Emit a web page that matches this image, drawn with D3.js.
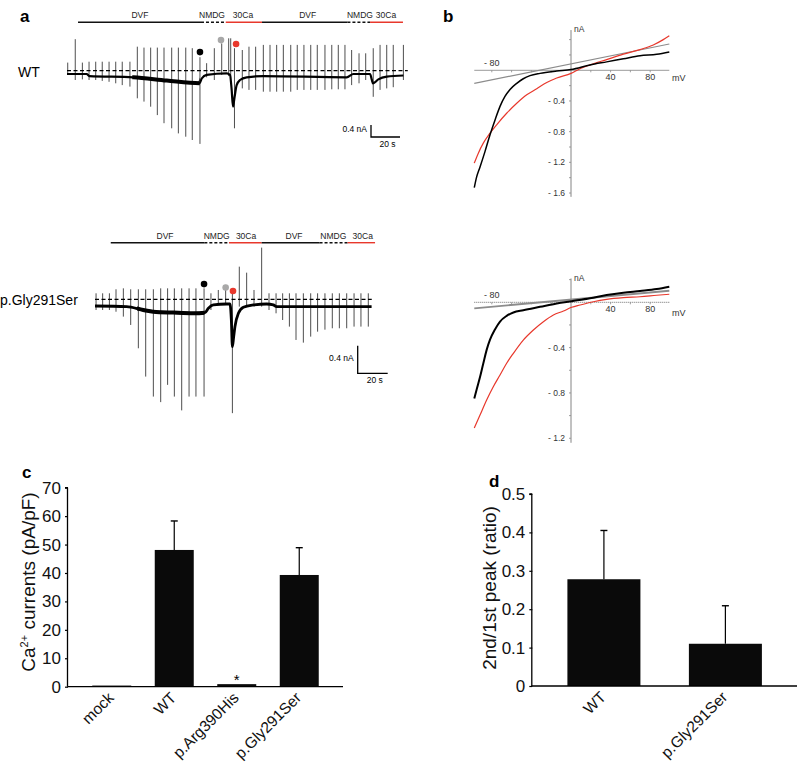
<!DOCTYPE html>
<html><head><meta charset="utf-8">
<script src="https://cdn.jsdelivr.net/npm/d3@7"></script>
<style>html,body{margin:0;padding:0;background:#fff;} svg{display:block;font-family:'Liberation Sans',Arial,Helvetica,sans-serif;}</style>
</head><body><svg id="chart" width="797" height="771"></svg>
<script>
// ---------------- DATA ----------------
// Panel a, WT whole-cell recording (time s, current nA)
const wtRampT = [0.5,5.7,10.6,15.2,19.8,24.3,29,33.6,38.1,43.4,48.5,53.1,57.7,62.3,66.9,72.2,76.8,81.9,86.4,91.7,96.3,101.6,106.7,111.5,112.9,115.5,120.9,125.5,130.1,135.4,140,144.6,149.2,154.3,158.8,163.4,168.1,172.6,177.9,182.6,187.1,191.7,196.3,201.4,206,211.2,215.9,220.5,225,232];
const wtRampMax = [0.27,1.05,0.27,0.3,0.3,0.3,0.3,0.3,0.3,0.3,0.8,0.77,0.77,0.77,0.77,0.77,0.77,0.77,0.75,0.45,0.25,0.75,0.91,1.08,1.08,0.75,0.69,0.8,0.8,0.86,0.86,0.86,0.86,0.86,0.86,0.86,0.86,0.86,0.86,0.86,0.86,0.86,0.69,0.58,0.58,0.75,0.86,0.86,0.86,0.86];
const wtRampMin = [-0.14,-0.31,-0.29,-0.31,-0.31,-0.34,-0.37,-0.42,-0.48,-0.53,-0.92,-1.03,-1.2,-1.48,-1.75,-1.92,-2.09,-2.2,-2.31,-2.44,-0.22,-0.31,-0.14,-0.18,-0.3,-1.92,-0.59,-0.64,-0.64,-0.7,-0.7,-0.7,-0.7,-0.7,-0.64,-0.64,-0.64,-0.64,-0.64,-0.62,-0.62,-0.62,-0.48,-0.42,-0.31,-0.87,-0.64,-0.59,-0.55,-0.31];
const wtBaseT = [0,13.6,15.4,45.7,68.8,91.5,92.9,96.3,110.1,112.4,113.5,114.5,115.5,117,119.3,123.9,135.4,192.9,197.5,209,210.2,211,214.7,220.5,232];
const wtBaseI = [-0.11,-0.11,-0.18,-0.22,-0.33,-0.42,-0.26,-0.14,-0.09,-0.14,-0.6,-1.2,-0.9,-0.48,-0.31,-0.22,-0.18,-0.22,-0.11,-0.11,-0.3,-0.42,-0.29,-0.2,-0.16];
const wtNoisyWindow = [45,91.5];
const wtSolBounds = [7.6,92.4,109.5,134.5,193.4,209,231.7];
const wtSolLabelT = [50.3,100,121.4,166,202,220];
const wtDotT = [91.7,106.2,116.6];
const wtDotI = [0.62,1.02,0.89];

// Panel a, p.Gly291Ser recording
const glyRampT = [0.7,5.1,9.6,14,18.9,23.8,28.9,33.8,38.9,43.8,48.4,52.9,57.8,62.7,67.3,72.7,77.3,82.2,87.1,91.6,96.2,101.1,106,111.1,116,120.7,125.1,129.6,134,138.9,143.8,148.4,153.3,158.2,162.9,167.8,172.7,177.3,182.2];
const glyRampMax = [0.087,0.087,0.087,0.145,0.159,0.145,0.145,0.145,0.145,0.159,0.159,0.159,0.159,0.159,0.159,0.159,0.087,0.135,0.208,0.087,0.473,0.386,0.135,0.749,0.087,0.087,0.087,0.087,0.087,0.087,0.087,0.087,0.087,0.087,0.087,0.087,0.087,0.087,0.087];
const glyRampMin = [-0.155,-0.155,-0.155,-0.18,-0.251,-0.372,-0.71,-1.12,-1.41,-1.49,-1.24,-1.41,-1.61,-1.41,-1.41,-1.41,-0.155,-0.058,-0.082,-1.65,-0.106,-0.106,-0.106,-0.106,-0.155,-0.203,-0.3,-0.396,-0.589,-0.628,-0.541,-0.469,-0.44,-0.42,-0.42,-0.42,-0.396,-0.396,-0.396];
const glyBaseT = [0,21.1,32.2,38.9,52.2,65.6,73.3,75.6,78.9,87.8,90,90.9,91.6,92.4,93.3,95.6,98.9,105.6,114.4,118.9,121.1,184.4];
const glyBaseI = [-0.097,-0.106,-0.155,-0.179,-0.193,-0.203,-0.193,-0.13,-0.082,-0.068,-0.068,-0.3,-0.686,-0.55,-0.396,-0.203,-0.116,-0.082,-0.068,-0.082,-0.106,-0.106];
const glyNoisyWindow = [28,73];
const glySolBounds = [10.5,72.9,89.3,111.1,149.7,168.4,186.7];
const glySolLabelT = [46.7,81.1,100.7,132.7,158.9,178.5];
const glyDotT = [72.7,87.1,92];
const glyDotI = [0.22,0.17,0.12];

const solLabels = ["DVF","NMDG","30Ca","DVF","NMDG","30Ca"];
const solKinds = ["dvf","nmdg","ca","dvf","nmdg","ca"];

// Panel b, I-V relations (mV, nA)
const ivTopBlackV = [-97.7,-95.3,-91.9,-86.9,-81.8,-76.8,-71.7,-66.7,-61.6,-54.8,-48.2,-41.4,-31.3,-14.4,0,19.2,36,52.9,69.7,86.6,99.3];
const ivTopBlackI = [-1.53,-1.39,-1.26,-1.06,-0.84,-0.65,-0.47,-0.34,-0.25,-0.17,-0.11,-0.07,-0.04,-0.01,0.01,0.07,0.11,0.15,0.19,0.21,0.24];
const ivTopRedV = [-97.7,-93.6,-88.6,-81.8,-75.1,-65,-54.8,-44.7,-34.6,-24.5,-14.4,0,9.1,19.2,36,52.9,69.7,83.1,93.2,99.3];
const ivTopRedI = [-1.21,-1.08,-0.95,-0.82,-0.71,-0.56,-0.43,-0.32,-0.24,-0.16,-0.10,-0.04,0.02,0.07,0.14,0.21,0.27,0.33,0.40,0.45];
const ivTopGrayV = [-97.7,99.3];
const ivTopGrayI = [-0.17,0.343];
const ivBotBlackV = [-97.7,-95.3,-91.9,-88.6,-85.2,-81.8,-76.8,-71.7,-65,-58.2,-48.2,-31.3,-14.4,0.7,19.2,36,52.9,69.7,86.6,99.3];
const ivBotBlackI = [-0.85,-0.77,-0.66,-0.54,-0.42,-0.33,-0.24,-0.17,-0.12,-0.09,-0.07,-0.04,-0.01,0.01,0.035,0.064,0.085,0.10,0.117,0.138];
const ivBotRedV = [-97.7,-91.9,-85.2,-78.5,-71.7,-65,-58.2,-48.2,-38,-27.9,-17.8,-7.6,0.7,9.1,22.6,36,52.9,69.7,86.6,99.3];
const ivBotRedI = [-1.11,-0.995,-0.862,-0.745,-0.642,-0.538,-0.45,-0.333,-0.244,-0.171,-0.112,-0.077,-0.044,-0.024,0.005,0.026,0.041,0.049,0.062,0.071];
const ivBotGrayV = [-97.7,99.3];
const ivBotGrayI = [-0.053,0.102];
const ivXTicks = [-80,-60,-40,-20,20,40,60,80];
const ivXLabels = [-80,40,80];

// Panel c
const cCats = ["mock","WT","p.Arg390His","p.Gly291Ser"];
const cVals = [0.4,48.1,0.9,39.3];
const cErr = [0,10.2,0,9.6];
const cTicks = [0,10,20,30,40,50,60,70];

// Panel d
const dCats = ["WT","p.Gly291Ser"];
const dVals = [0.278,0.110];
const dErr = [0.127,0.099];
const dTicks = [0,0.1,0.2,0.3,0.4,0.5];

// ---------------- DRAW ----------------
const svg = d3.select("#chart");
const RED = "#e8382c", GRAY = "#a8a8a8";

[["a",20,22],["b",443,22],["c",22,478],["d",489,487]].forEach(([t,x,y])=>{
  svg.append("text").attr("x",x).attr("y",y).attr("font-size",17).attr("font-weight","bold").text(t);
});

function trace(cfg){
  const g = svg.append("g");
  const x = d3.scaleLinear().domain([0,1]).range([cfg.x0, cfg.x0 + cfg.pxPerS]);
  const y = d3.scaleLinear().domain([0,1]).range([cfg.y0, cfg.y0 - cfg.pxPerNA]);
  for (let i=0;i<solKinds.length;i++){
    const k = solKinds[i];
    g.append("line").attr("x1",x(cfg.sol[i])).attr("x2",x(cfg.sol[i+1]))
      .attr("y1",cfg.solY).attr("y2",cfg.solY)
      .attr("stroke", k==="ca"?RED:"#111").attr("stroke-width",1.4)
      .attr("stroke-dasharray", k==="nmdg"?"3,2":null);
    g.append("text").attr("x",x(cfg.solLab[i])).attr("y",cfg.solY-4)
      .attr("text-anchor","middle").attr("font-size",8.5).attr("fill","#222").text(solLabels[i]);
  }
  g.selectAll(".ramp").data(cfg.rT).join("line")
    .attr("x1",d=>x(d)).attr("x2",d=>x(d))
    .attr("y1",(d,i)=>y(cfg.rMax[i])).attr("y2",(d,i)=>y(cfg.rMin[i]))
    .attr("stroke","#3a3a3a").attr("stroke-width",0.9);
  const line = d3.line().x(d=>x(d[0])).y(d=>y(d[1])).curve(d3.curveMonotoneX);
  const pts = cfg.bT.map((t,i)=>[t,cfg.bI[i]]);
  g.append("path").attr("d", line(pts))
    .attr("fill","none").attr("stroke","#000").attr("stroke-width",cfg.baseW);
  const clipId = "clip"+cfg.label.replace(/\W/g,"");
  g.append("clipPath").attr("id",clipId).append("rect")
    .attr("x",x(cfg.noisy[0])).attr("width",x(cfg.noisy[1])-x(cfg.noisy[0])).attr("y",0).attr("height",771);
  g.append("path").attr("d", line(pts)).attr("clip-path",`url(#${clipId})`)
    .attr("fill","none").attr("stroke","#000").attr("stroke-width",4);
  g.append("line").attr("x1",x(0)).attr("x2",x(cfg.zeroEnd)).attr("y1",y(0)).attr("y2",y(0))
    .attr("stroke","#000").attr("stroke-width",1.3).attr("stroke-dasharray","4,2.5");
  const cols = ["#000",GRAY,RED];
  cfg.dT.forEach((t,i)=>g.append("circle").attr("cx",x(t)).attr("cy",y(cfg.dI[i])).attr("r",3.3).attr("fill",cols[i]));
  g.append("text").attr("x",cfg.labX).attr("y",cfg.labY).attr("font-size",14).text(cfg.label);
  const hx = x(20)-x(0), vy = y(0)-y(0.4);
  const cx = cfg.sbX, cy = cfg.sbY;
  g.append("path").attr("d",`M${cx},${cy-vy}V${cy}H${cx+hx}`).attr("fill","none").attr("stroke","#000").attr("stroke-width",1.3);
  g.append("text").attr("x",cx-4).attr("y",cy-vy/2+1).attr("text-anchor","end").attr("font-size",8.5).text("0.4 nA");
  g.append("text").attr("x",cx+hx/2+2).attr("y",cy+10).attr("text-anchor","middle").attr("font-size",8.5).text("20 s");
}

trace({x0:67,pxPerS:1.45,y0:70.7,pxPerNA:30,sol:wtSolBounds,solLab:wtSolLabelT,solY:22.3,
  rT:wtRampT,rMax:wtRampMax,rMin:wtRampMin,bT:wtBaseT,bI:wtBaseI,zeroEnd:235,noisy:wtNoisyWindow,baseW:2.2,
  dT:wtDotT,dI:wtDotI,label:"WT",labX:18,labY:77,sbX:371,sbY:137});
trace({x0:95,pxPerS:1.5,y0:299.3,pxPerNA:69,sol:glySolBounds,solLab:glySolLabelT,solY:242.7,
  rT:glyRampT,rMax:glyRampMax,rMin:glyRampMin,bT:glyBaseT,bI:glyBaseI,zeroEnd:184.5,noisy:glyNoisyWindow,baseW:2.8,
  dT:glyDotT,dI:glyDotI,label:"p.Gly291Ser",labX:0,labY:305,sbX:357.7,sbY:373.3});

// ---------- Panel b ----------
function ivPanel(cfg){
  const g = svg.append("g");
  const x = d3.scaleLinear().domain([-100,100]).range([472,670]);
  const y = d3.scaleLinear().domain([0,-1]).range([cfg.y0, cfg.y0 + cfg.pxPerNA]);
  g.append("line").attr("x1",x(-97.7)).attr("x2",x(99.3)).attr("y1",y(0)).attr("y2",y(0))
    .attr("stroke",cfg.dotted?"#8a8a8a":"#9a9a9a").attr("stroke-width",cfg.dotted?1.3:1).attr("stroke-dasharray",cfg.dotted?"1,1":null);
  g.append("line").attr("x1",x(0)).attr("x2",x(0)).attr("y1",y(cfg.yTop)).attr("y2",y(cfg.yBot))
    .attr("stroke","#777").attr("stroke-width",0.9);
  ivXTicks.forEach(v=>g.append("line").attr("x1",x(v)).attr("x2",x(v)).attr("y1",y(0)).attr("y2",y(0)+2).attr("stroke","#888").attr("stroke-width",0.8));
  cfg.yTicks.forEach(v=>g.append("line").attr("x1",x(0)-2).attr("x2",x(0)).attr("y1",y(v)).attr("y2",y(v)).attr("stroke","#888").attr("stroke-width",0.8));
  cfg.yLabels.forEach(v=>g.append("text").attr("x",x(0)-6).attr("y",y(v)+3).attr("text-anchor","end").attr("font-size",8.5).attr("fill","#333").text("- "+Math.abs(v).toFixed(1)));
  ivXLabels.forEach(v=>g.append("text").attr("x",x(v)).attr("y",v<0?y(0)-4:y(0)+10).attr("text-anchor","middle").attr("font-size",9).attr("fill","#333").text(v<0?"- "+Math.abs(v):v));
  g.append("text").attr("x",x(0)+3).attr("y",y(cfg.yTop)+2).attr("font-size",8.5).attr("fill","#333").text("nA");
  g.append("text").attr("x",x(100)+2).attr("y",y(0)+cfg.mv).attr("font-size",9).attr("fill","#333").text("mV");
  const line = d3.line().x(d=>x(d[0])).y(d=>y(d[1])).curve(d3.curveMonotoneX);
  const curves = [[cfg.gV,cfg.gI,"#8c8c8c",cfg.dotted?1.8:1.2],[cfg.rV,cfg.rI,RED,1.2],[cfg.bV,cfg.bI,"#000",cfg.dotted?2:1.5]];
  curves.forEach(([vs,is,c,w])=>g.append("path").attr("d",line(vs.map((v,i)=>[v,is[i]])))
    .attr("fill","none").attr("stroke",c).attr("stroke-width",w));
}
ivPanel({y0:70.3,pxPerNA:76.7,yTop:0.525,yBot:-1.65,yTicks:[0.4,0.2,-0.2,-0.4,-0.6,-0.8,-1.0,-1.2,-1.4,-1.6],yLabels:[-0.4,-0.8,-1.2,-1.6],
  mv:11,dotted:false,bV:ivTopBlackV,bI:ivTopBlackI,rV:ivTopRedV,rI:ivTopRedI,gV:ivTopGrayV,gI:ivTopGrayI});
ivPanel({y0:302.3,pxPerNA:113.3,yTop:0.21,yBot:-1.24,yTicks:[0.2,-0.2,-0.4,-0.6,-0.8,-1.0,-1.2],yLabels:[-0.4,-0.8,-1.2],
  mv:14,dotted:true,bV:ivBotBlackV,bI:ivBotBlackI,rV:ivBotRedV,rI:ivBotRedI,gV:ivBotGrayV,gI:ivBotGrayI});

// ---------- Bar panels ----------
function barPanel(cfg){
  const g = svg.append("g");
  const x = d3.scaleBand().domain(cfg.cats).range([cfg.xL,cfg.xR]).paddingInner(cfg.pi).paddingOuter(cfg.po);
  const y = d3.scaleLinear().domain([0,cfg.yMax]).range([cfg.yB,cfg.yT]);
  g.selectAll(".bar").data(cfg.vals).join("rect")
    .attr("x",(d,i)=>x(cfg.cats[i])).attr("width",x.bandwidth())
    .attr("y",d=>y(d)).attr("height",d=>y(0)-y(d)).attr("fill","#0a0a0a");
  cfg.vals.forEach((v,i)=>{
    if(!cfg.err[i]) return;
    const cx = x(cfg.cats[i])+x.bandwidth()/2;
    g.append("line").attr("x1",cx).attr("x2",cx).attr("y1",y(v)).attr("y2",y(v+cfg.err[i])).attr("stroke","#000").attr("stroke-width",1.2);
    g.append("line").attr("x1",cx-3.5).attr("x2",cx+3.5).attr("y1",y(v+cfg.err[i])).attr("y2",y(v+cfg.err[i])).attr("stroke","#000").attr("stroke-width",1.4);
  });
  const ya = g.append("g").attr("transform",`translate(${cfg.xL},0)`)
    .call(d3.axisLeft(y).tickValues(cfg.ticks).tickSize(3).tickPadding(4).tickFormat(d=>d));
  ya.select(".domain").attr("stroke-width",1.3).attr("d",`M-0.5,${cfg.yB}V${cfg.yT}M-3,${cfg.yT}H0`);
  ya.selectAll("text").attr("font-size",17).attr("font-family","'Liberation Sans',Arial,sans-serif").attr("fill","#111");
  ya.selectAll("line").attr("stroke-width",1.2);
  g.append("line").attr("x1",cfg.xL-0.5).attr("x2",cfg.xR).attr("y1",cfg.yB).attr("y2",cfg.yB).attr("stroke","#000").attr("stroke-width",1.3);
  cfg.cats.forEach(c=>{
    const cx = x(c)+x.bandwidth()/2;
    g.append("text").attr("transform",`translate(${cx+3},${cfg.yB+12}) rotate(-45)`)
      .attr("text-anchor","end").attr("font-size",15.5).attr("fill","#111").text(c);
  });
  g.append("text").attr("transform",`translate(${cfg.labX},${cfg.labY}) rotate(-90)`).attr("text-anchor","middle")
    .attr("font-size",19).attr("fill","#111").attr("dy","0.35em").html(cfg.ylab);
  return {x,y,g};
}
const pc = barPanel({cats:cCats,vals:cVals,err:cErr,xL:68,xR:343,pi:0.376,po:0.388,yMax:70,yB:686.7,yT:487.7,ticks:cTicks,
  labX:28,labY:582,ylab:'Ca<tspan dy="-7" font-size="11">2+</tspan><tspan dy="7"> currents (pA/pF)</tspan>'});
pc.g.append("text").attr("x",pc.x("p.Arg390His")+pc.x.bandwidth()/2).attr("y",pc.y(cVals[2])+1).attr("text-anchor","middle").attr("font-size",15).text("*");
barPanel({cats:dCats,vals:dVals,err:dErr,xL:532.3,xR:797,pi:0.399,po:0.289,yMax:0.5,yB:686,yT:494,ticks:dTicks,
  labX:489,labY:588,ylab:"2nd/1st peak (ratio)"});
</script></body></html>
